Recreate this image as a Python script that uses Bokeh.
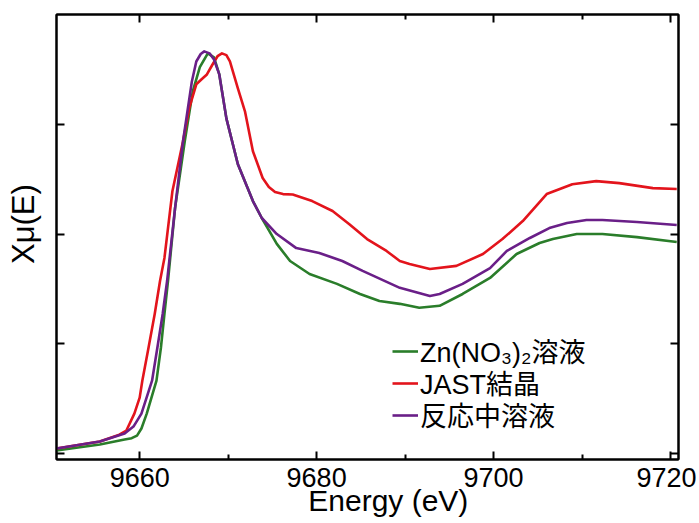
from bokeh.plotting import figure
from bokeh.models import FixedTicker, LinearAxis, Legend, LegendItem, Range1d, CustomJSTickFormatter
from bokeh.embed import file_html
from bokeh.resources import INLINE

# Zn(NO3)2 solution (green)
e_green = [9650.6, 9655.5, 9658.3, 9659.1, 9659.7, 9660.2, 9660.8, 9661.9, 9662.4, 9662.8,
           9663.2, 9664.0, 9665.1, 9666.0, 9666.8, 9667.7, 9668.4, 9669.0, 9669.8, 9671.1,
           9672.8, 9673.8, 9675.5, 9677.0, 9679.2, 9682.3, 9684.9, 9687.1, 9689.4, 9691.6,
           9693.9, 9696.5, 9699.6, 9702.6, 9705.2, 9706.7, 9709.4, 9712.3, 9716.2, 9720.7]
mu_green = [0.014, 0.041, 0.064, 0.070, 0.082, 0.114, 0.182, 0.332, 0.482, 0.636,
            0.786, 1.118, 1.423, 1.650, 1.760, 1.823, 1.805, 1.727, 1.527, 1.318,
            1.150, 1.073, 0.955, 0.877, 0.818, 0.773, 0.727, 0.695, 0.682, 0.664,
            0.673, 0.727, 0.800, 0.909, 0.959, 0.977, 1.000, 1.000, 0.986, 0.964]

# JAST crystal (red)
e_red = [9650.6, 9655.5, 9657.7, 9658.5, 9659.4, 9660.0, 9660.3, 9661.0, 9661.7, 9662.3,
         9662.8, 9663.7, 9664.9, 9665.6, 9666.4, 9667.0, 9667.6, 9668.2, 9668.8, 9669.3,
         9669.8, 9670.2, 9671.1, 9671.9, 9672.8, 9673.9, 9674.6, 9675.3, 9676.2, 9677.3,
         9679.5, 9681.8, 9683.7, 9685.7, 9687.9, 9689.4, 9690.5, 9692.8, 9695.8, 9698.8,
         9701.0, 9703.3, 9706.0, 9708.9, 9711.6, 9714.2, 9718.0, 9720.7]
mu_red = [0.023, 0.055, 0.086, 0.105, 0.182, 0.255, 0.332, 0.482, 0.636, 0.786,
          0.891, 1.195, 1.423, 1.573, 1.682, 1.705, 1.727, 1.770, 1.810, 1.823,
          1.815, 1.786, 1.664, 1.559, 1.377, 1.255, 1.214, 1.191, 1.182, 1.180,
          1.150, 1.105, 1.045, 0.977, 0.923, 0.877, 0.864, 0.841, 0.855, 0.909,
          0.977, 1.059, 1.182, 1.227, 1.241, 1.232, 1.209, 1.205]

# reaction solution (purple)
e_purple = [9650.6, 9655.5, 9658.3, 9659.3, 9660.2, 9661.4, 9662.0, 9662.6, 9663.1, 9664.0,
            9664.9, 9665.9, 9666.4, 9666.9, 9667.3, 9667.9, 9668.4, 9669.0, 9669.8, 9671.1,
            9672.8, 9673.8, 9675.5, 9677.7, 9680.3, 9682.9, 9685.2, 9689.4, 9692.8, 9693.9,
            9696.5, 9699.6, 9701.5, 9704.1, 9706.3, 9708.3, 9710.5, 9712.3, 9716.2, 9720.7]
mu_purple = [0.023, 0.055, 0.091, 0.123, 0.182, 0.332, 0.482, 0.636, 0.786, 1.118,
             1.423, 1.695, 1.786, 1.820, 1.832, 1.823, 1.795, 1.727, 1.527, 1.318,
             1.150, 1.073, 1.000, 0.936, 0.914, 0.877, 0.832, 0.755, 0.718, 0.727,
             0.773, 0.845, 0.923, 0.982, 1.027, 1.050, 1.064, 1.064, 1.055, 1.041]

labels = ["Zn(NO\u2083)\u2082溶液", "JAST結晶", "反応中溶液"]
colors = ["#2a7d2a", "#e3141c", "#6a1f88"]

x_major = [9660, 9680, 9700, 9720]
x_minor = [9670, 9690, 9710]
y_major = [0, 0.5, 1.0, 1.5]

NBSP = "\u00a0"
x_title = NBSP * 5 + "Energy (eV)"
y_title = NBSP * 3 + "Xμ(E)"

FONT = "Liberation Sans, Noto Sans CJK JP"

p = figure(width=696, height=523, output_backend="svg", toolbar_location=None,
           x_range=Range1d(9650.6, 9720.9), y_range=Range1d(-0.027, 2.0),
           min_border_left=56, min_border_top=14, min_border_right=18, min_border_bottom=64)
p.xgrid.visible = False
p.ygrid.visible = False
p.outline_line_color = "black"
p.outline_line_width = 2
p.background_fill_color = "white"
p.border_fill_color = "white"

r_g = p.line(e_green, mu_green, line_color=colors[0], line_width=2.6, line_join="round")
r_r = p.line(e_red, mu_red, line_color=colors[1], line_width=2.6, line_join="round")
r_p = p.line(e_purple, mu_purple, line_color=colors[2], line_width=2.6, line_join="round")
renderers = [r_g, r_r, r_p]

blank = CustomJSTickFormatter(code="return '';")

def style_x(ax, show_labels):
    ax.ticker = FixedTicker(ticks=x_major, minor_ticks=x_minor)
    ax.major_tick_in = 8
    ax.major_tick_out = 0
    ax.minor_tick_in = 5
    ax.minor_tick_out = 0
    ax.axis_line_width = 2
    ax.axis_line_color = "black"
    ax.major_tick_line_width = 2
    ax.minor_tick_line_width = 2
    if show_labels:
        ax.major_label_text_font = FONT
        ax.major_label_text_font_size = "27px"
        ax.major_label_text_color = "black"
        ax.major_label_standoff = 8
    else:
        ax.formatter = blank
        ax.major_label_standoff = 0

def style_y(ax):
    ax.ticker = FixedTicker(ticks=y_major, minor_ticks=[])
    ax.major_tick_in = 8
    ax.major_tick_out = 0
    ax.minor_tick_in = 0
    ax.minor_tick_out = 0
    ax.axis_line_width = 2
    ax.axis_line_color = "black"
    ax.major_tick_line_width = 2
    ax.formatter = blank
    ax.major_label_standoff = 0

xa = p.xaxis[0]
style_x(xa, True)
xa.axis_label = x_title
xa.axis_label_text_font = FONT
xa.axis_label_text_font_size = "30px"
xa.axis_label_text_font_style = "normal"
xa.axis_label_text_color = "black"
xa.axis_label_standoff = -6

ya = p.yaxis[0]
style_y(ya)
ya.axis_label = y_title
ya.axis_label_text_font = FONT
ya.axis_label_text_font_size = "31px"
ya.axis_label_text_font_style = "normal"
ya.axis_label_text_color = "black"
ya.axis_label_standoff = 16

top = LinearAxis()
style_x(top, False)
p.add_layout(top, "above")
right = LinearAxis()
style_y(right)
p.add_layout(right, "right")

# one legend box per entry, so the row pitch can match the reference
legend_offsets = [89, 57, 25]
for lab, rend, yoff in zip(labels, renderers, legend_offsets):
    lg = Legend(items=[LegendItem(label=lab, renderers=[rend])], location=(336, yoff))
    lg.border_line_color = None
    lg.background_fill_alpha = 0
    lg.label_text_font = FONT
    lg.label_text_font_size = "27px"
    lg.label_text_color = "black"
    lg.glyph_width = 26
    lg.glyph_height = 24
    lg.label_height = 24
    lg.padding = 0
    lg.margin = 0
    lg.label_standoff = 2
    p.add_layout(lg, "center")

open("out.html", "w").write(file_html(p, INLINE))
